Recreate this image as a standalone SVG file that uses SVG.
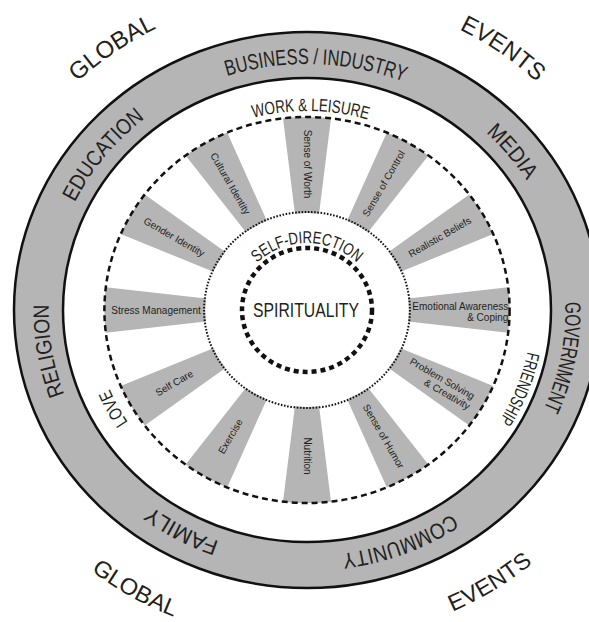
<svg xmlns="http://www.w3.org/2000/svg" width="589" height="622" viewBox="0 0 589 622">
<style>
  text { font-family: "Liberation Sans", Arial, sans-serif; fill: #231f20; }
  .ring { font-size: 22px; }
  .outer { font-size: 24px; }
  .outerb { font-size: 23px; }
  .mid { font-size: 18px; }
  .pl { font-size: 10px; }
  .petal { fill: #b5b5b5; }
</style>
<defs>
  <path id="cw246" d="M0,246 A258.3,246 0 1 1 0,-246 A258.3,246 0 1 1 0,246"/>
  <path id="cw199" d="M0,199 A208.95,199 0 1 1 0,-199 A208.95,199 0 1 1 0,199"/>
  <path id="cw214" d="M0,214 A224.7,214 0 1 1 0,-214 A224.7,214 0 1 1 0,214"/>
  <path id="cw204" d="M0,204 A214.2,204 0 1 1 0,-204 A214.2,204 0 1 1 0,204"/>
  <path id="cw316" d="M0,316 A331.8,316 0 1 1 0,-316 A331.8,316 0 1 1 0,316"/>
  <path id="cw67" d="M0,67 A70.35,67 0 1 1 0,-67 A70.35,67 0 1 1 0,67"/>
  <path id="ccw332" d="M0,-332 A348.6,332 0 1 0 0,332 A348.6,332 0 1 0 0,-332"/>
  <path id="petal" class="petal" d="M-11.49,-96.32 L-22.85,-191.65 A193,193 0 0 1 22.85,-191.65 L11.49,-96.32 A97,97 0 0 0 -11.49,-96.32 Z"/>
</defs>
<rect width="589" height="622" fill="#ffffff"/>

<g id="ring" transform="translate(307,310)">
  <ellipse rx="293" ry="278" fill="#b5b5b5" stroke="#111" stroke-width="2.5"/>
  <ellipse rx="244" ry="232" fill="#ffffff" stroke="#111" stroke-width="2.5"/>
</g>

<g id="petals">
  <g id="sense-of-worth"><use href="#petal" transform="translate(307,310) scale(1.05,1) rotate(0)"/><text class="pl" text-anchor="middle" dy=".35em" transform="translate(307,164) rotate(90)">Sense of Worth</text></g>
  <g id="sense-of-control"><use href="#petal" transform="translate(307,310) scale(1.05,1) rotate(30)"/><text class="pl" text-anchor="middle" dy=".35em" transform="translate(383.7,183.6) rotate(-60)">Sense of Control</text></g>
  <g id="realistic-beliefs"><use href="#petal" transform="translate(307,310) scale(1.05,1) rotate(60)"/><text class="pl" text-anchor="middle" dy=".35em" transform="translate(439.8,237) rotate(-30)">Realistic Beliefs</text></g>
  <g id="emotional-awareness"><use href="#petal" transform="translate(307,310) scale(1.05,1) rotate(90)"/><text class="pl" text-anchor="end" transform="translate(460.3,310)"><tspan x="48" y="0">Emotional Awareness</tspan><tspan x="48" y="10.5">&amp; Coping</tspan></text></g>
  <g id="problem-solving"><use href="#petal" transform="translate(307,310) scale(1.05,1) rotate(120)"/><text class="pl" text-anchor="middle" transform="translate(439.8,383) rotate(30)"><tspan x="0" y="-1.5">Problem Solving</tspan><tspan x="12" y="9.5">&amp; Creativity</tspan></text></g>
  <g id="sense-of-humor"><use href="#petal" transform="translate(307,310) scale(1.05,1) rotate(150)"/><text class="pl" text-anchor="middle" dy=".35em" transform="translate(383.7,436.4) rotate(60)">Sense of Humor</text></g>
  <g id="nutrition"><use href="#petal" transform="translate(307,310) scale(1.05,1) rotate(180)"/><text class="pl" text-anchor="middle" dy=".35em" transform="translate(307,456) rotate(90)">Nutrition</text></g>
  <g id="exercise"><use href="#petal" transform="translate(307,310) scale(1.05,1) rotate(210)"/><text class="pl" text-anchor="middle" dy=".35em" transform="translate(230.3,436.4) rotate(-60)">Exercise</text></g>
  <g id="self-care"><use href="#petal" transform="translate(307,310) scale(1.05,1) rotate(240)"/><text class="pl" text-anchor="middle" dy=".35em" transform="translate(174.2,383) rotate(-30)">Self Care</text></g>
  <g id="stress-management"><use href="#petal" transform="translate(307,310) scale(1.05,1) rotate(270)"/><text class="pl" text-anchor="middle" dy=".35em" transform="translate(156,310)">Stress Management</text></g>
  <g id="gender-identity"><use href="#petal" transform="translate(307,310) scale(1.05,1) rotate(300)"/><text class="pl" text-anchor="middle" dy=".35em" transform="translate(174.2,237) rotate(30)">Gender Identity</text></g>
  <g id="cultural-identity"><use href="#petal" transform="translate(307,310) scale(1.05,1) rotate(330)"/><text class="pl" text-anchor="middle" dy=".35em" transform="translate(230.3,183.6) rotate(60)">Cultural Identity</text></g>
</g>

<g id="circles" transform="translate(307,310)" fill="none" stroke="#111">
  <ellipse id="work-leisure-boundary" rx="202.6" ry="193" stroke-width="2.5" stroke-dasharray="6 4"/>
  <ellipse id="self-direction-boundary" rx="102.9" ry="98" stroke-width="2" stroke-dasharray="1.6 1.6"/>
  <ellipse id="spirituality-boundary" rx="65" ry="62" stroke-width="4.5" stroke-dasharray="5 4"/>
</g>

<g id="connectors"></g>

<g id="labels" transform="translate(307,310)">
  <g id="outer-labels">
    <text class="outer"><textPath href="#cw316" startOffset="40%" text-anchor="middle" textLength="96" lengthAdjust="spacingAndGlyphs">GLOBAL</textPath></text>
    <text class="outer"><textPath href="#cw316" startOffset="60.06%" text-anchor="middle" textLength="94" lengthAdjust="spacingAndGlyphs">EVENTS</textPath></text>
    <text class="outerb"><textPath href="#ccw332" startOffset="41.4%" text-anchor="middle" textLength="95" lengthAdjust="spacingAndGlyphs">GLOBAL</textPath></text>
    <text class="outerb"><textPath href="#ccw332" startOffset="59.2%" text-anchor="middle" textLength="94" lengthAdjust="spacingAndGlyphs">EVENTS</textPath></text>
  </g>
  <g id="ring-labels" class="ring">
    <text><textPath href="#cw246" startOffset="50.56%" text-anchor="middle" textLength="180" lengthAdjust="spacingAndGlyphs">BUSINESS / INDUSTRY</textPath></text>
    <text><textPath href="#cw246" startOffset="64.36%" text-anchor="middle" textLength="63" lengthAdjust="spacingAndGlyphs">MEDIA</textPath></text>
    <text><textPath href="#cw246" startOffset="77.97%" text-anchor="middle" textLength="110" lengthAdjust="spacingAndGlyphs">GOVERNMENT</textPath></text>
    <text><textPath href="#cw246" startOffset="94.06%" text-anchor="middle" textLength="118" lengthAdjust="spacingAndGlyphs">COMMUNITY</textPath></text>
    <text><textPath href="#cw246" startOffset="8.06%" text-anchor="middle" textLength="77" lengthAdjust="spacingAndGlyphs">FAMILY</textPath></text>
    <text><textPath href="#cw246" startOffset="22.44%" text-anchor="middle" textLength="92" lengthAdjust="spacingAndGlyphs">RELIGION</textPath></text>
    <text><textPath href="#cw246" startOffset="35.53%" text-anchor="middle" textLength="110" lengthAdjust="spacingAndGlyphs">EDUCATION</textPath></text>
  </g>
  <g id="inner-labels" class="mid">
    <text><textPath href="#cw199" startOffset="50.28%" text-anchor="middle" textLength="116" lengthAdjust="spacingAndGlyphs">WORK &amp; LEISURE</textPath></text>
    <text><textPath href="#cw214" startOffset="80.78%" text-anchor="middle" textLength="75" lengthAdjust="spacingAndGlyphs">FRIENDSHIP</textPath></text>
    <text><textPath href="#cw204" startOffset="17.36%" text-anchor="middle" textLength="38" lengthAdjust="spacingAndGlyphs">LOVE</textPath></text>
  </g>
  <g id="self-direction">
    <text style="font-size:17px"><textPath href="#cw67" startOffset="50%" text-anchor="middle" textLength="110" lengthAdjust="spacingAndGlyphs">SELF-DIRECTION</textPath></text>
  </g>
  <g id="spirituality">
    <text style="font-size:20px" x="-1" y="7" text-anchor="middle" textLength="106" lengthAdjust="spacingAndGlyphs">SPIRITUALITY</text>
  </g>
</g>
</svg>
